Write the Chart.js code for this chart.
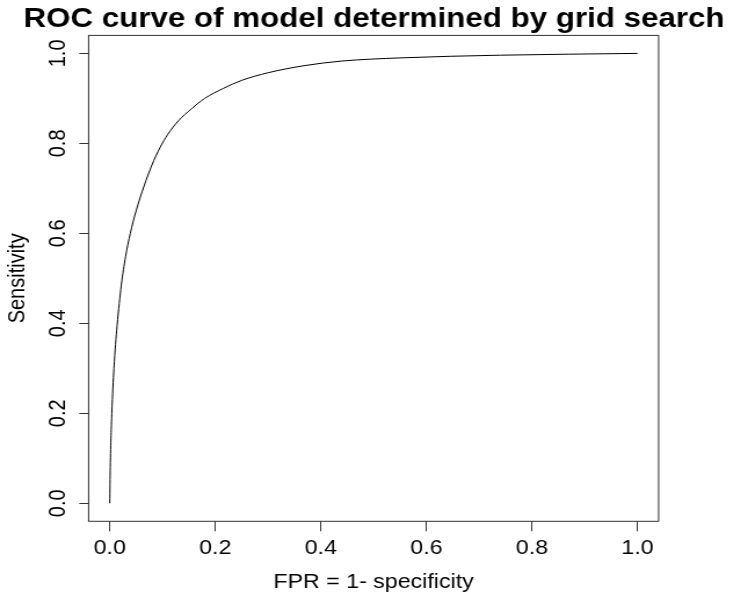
<!DOCTYPE html>
<html>
<head>
<meta charset="utf-8">
<script src="https://cdn.jsdelivr.net/npm/chart.js@4/dist/chart.umd.min.js"></script>
<style>
  html, body { margin: 0; padding: 0; overflow: hidden; background: #ffffff; }
  canvas { display: block; }
</style>
</head>
<body>
<canvas id="roc" width="645" height="601" style="width:748.2px;height:601px;"></canvas>
<script>
// ---- data ----
const chartTitle = "ROC curve of model determined by grid search";
const xAxisTitle = "FPR = 1- specificity";
const yAxisTitle = "Sensitivity";
const fpr = [0, 0.001, 0.004, 0.008, 0.014, 0.022, 0.03, 0.039, 0.05, 0.065, 0.08, 0.095, 0.11, 0.13, 0.155, 0.18, 0.215, 0.25, 0.3, 0.37, 0.44, 0.55, 0.74, 1.0];
const sensitivity = [0, 0.08, 0.2, 0.3, 0.395, 0.485, 0.548, 0.6, 0.65, 0.705, 0.752, 0.79, 0.82, 0.85, 0.877, 0.9, 0.922, 0.94, 0.957, 0.973, 0.983, 0.99, 0.996, 1.0];
const tickValues = [0, 0.2, 0.4, 0.6, 0.8, 1.0];
const tickLabels = ["0.0", "0.2", "0.4", "0.6", "0.8", "1.0"];
const axisMin = -0.04;
const axisMax = 1.04;

const FONT = '"Liberation Sans", Arial, Helvetica, sans-serif';

const points = fpr.map((x, i) => ({ x: x, y: sensitivity[i] }));

function setTicks(scale) {
  scale.ticks = tickValues.map(v => ({ value: v }));
}
function labelFor(value) {
  const i = tickValues.findIndex(v => Math.abs(v - value) < 1e-9);
  return i >= 0 ? tickLabels[i] : '';
}

const boxPlugin = {
  id: 'plotBox',
  afterDatasetsDraw(chart) {
    const { ctx, chartArea: a } = chart;
    ctx.save();
    ctx.strokeStyle = '#333333';
    ctx.lineWidth = 1;
    ctx.strokeRect(a.left, a.top, a.right - a.left, a.bottom - a.top);
    ctx.restore();
  }
};

new Chart(document.getElementById('roc'), {
  type: 'scatter',
  data: {
    datasets: [{
      data: points,
      showLine: true,
      borderColor: '#000000',
      borderWidth: 1,
      pointRadius: 0,
      cubicInterpolationMode: 'monotone',
      fill: false
    }]
  },
  options: {
    responsive: false,
    devicePixelRatio: 1,
    animation: false,
    layout: { padding: 0 },
    plugins: {
      legend: { display: false },
      tooltip: { enabled: false },
      title: {
        display: true,
        text: chartTitle,
        color: '#000000',
        font: { family: FONT, size: 27, weight: 'bold', lineHeight: 1.2 },
        padding: { top: 3, bottom: 0 }
      }
    },
    scales: {
      x: {
        type: 'linear',
        position: 'bottom',
        min: axisMin,
        max: axisMax,
        afterBuildTicks: setTicks,
        afterFit: s => { s.height = 79.7; },
        border: { display: false },
        grid: { drawOnChartArea: false, drawTicks: true, tickLength: 10, color: '#333333', lineWidth: 1 },
        ticks: {
          color: '#000000',
          font: { family: FONT, size: 20, lineHeight: 1.2 },
          padding: 5,
          maxRotation: 0,
          minRotation: 0,
          autoSkip: false,
          callback: v => labelFor(v)
        },
        title: {
          display: true,
          text: xAxisTitle,
          color: '#000000',
          font: { family: FONT, size: 20, lineHeight: 1.2 },
          padding: { top: 0, bottom: 6.6 }
        }
      },
      y: {
        type: 'linear',
        position: 'left',
        min: axisMin,
        max: axisMax,
        afterBuildTicks: setTicks,
        afterFit: s => { s.width = 76.4; },
        border: { display: false },
        grid: { drawOnChartArea: false, drawTicks: true, tickLength: 8, color: '#333333', lineWidth: 1 },
        ticks: {
          color: '#000000',
          font: { family: FONT, size: 20, lineHeight: 1.2 },
          padding: 4,
          minRotation: 90,
          maxRotation: 90,
          crossAlign: 'center',
          autoSkip: false,
          callback: v => labelFor(v)
        },
        title: {
          display: true,
          text: yAxisTitle,
          color: '#000000',
          font: { family: FONT, size: 20, lineHeight: 1.2 },
          padding: { top: 3.5, bottom: 0 }
        }
      },
      yRight: {
        type: 'linear',
        position: 'right',
        display: true,
        afterFit: s => { s.width = 77.1; },
        border: { display: false },
        grid: { display: false },
        ticks: { display: false }
      }
    }
  },
  plugins: [boxPlugin]
});
</script>
</body>
</html>
